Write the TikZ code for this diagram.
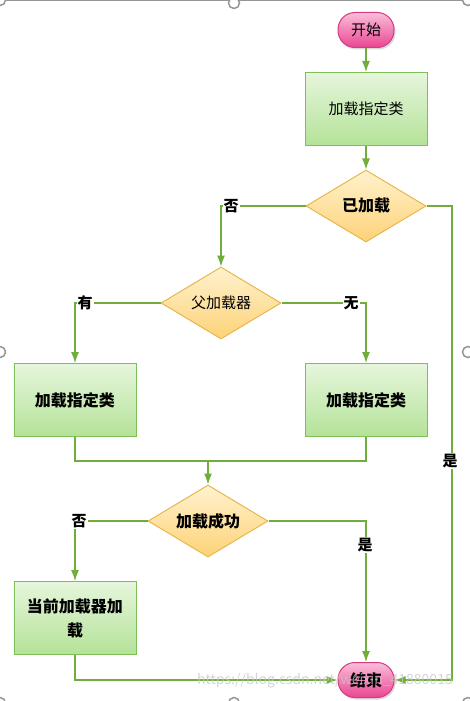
\documentclass[tikz,border=0pt]{standalone}
\usepackage{fontspec}
\setmainfont{Noto Sans CJK SC}
\usetikzlibrary{shapes.geometric,arrows.meta,shadows}
\definecolor{myline}{RGB}{112,174,60}
\definecolor{boxedge}{RGB}{128,190,88}
\definecolor{boxtop}{RGB}{230,246,220}
\definecolor{boxbot}{RGB}{180,226,152}
\definecolor{diaedge}{RGB}{232,182,78}
\definecolor{diatop}{RGB}{255,242,205}
\definecolor{diabot}{RGB}{253,210,120}
\definecolor{pilledge}{RGB}{214,58,128}
\definecolor{pilltop}{RGB}{250,190,218}
\definecolor{pillbot}{RGB}{234,70,146}
\definecolor{frame}{RGB}{150,150,150}

\begin{document}
\begin{tikzpicture}[x=1pt, y=-1pt,
    flow/.style={draw=myline, line width=1.2pt, -{Latex[length=11pt, width=8pt]}},
    link/.style={draw=myline, line width=1.2pt},
    plain/.style={font=\fontsize{15}{18}\selectfont},
    heavy/.style={font=\fontsize{16}{24}\selectfont\bfseries},
    procbox/.style={rectangle, draw=boxedge, line width=1pt, top color=boxtop, bottom color=boxbot,
        minimum width=122pt, minimum height=73pt, text width=112pt, align=center},
    decision/.style={diamond, aspect=1.6, inner sep=0pt, draw=diaedge, line width=1pt,
        top color=diatop, bottom color=diabot, minimum width=120pt, minimum height=72pt},
    terminal/.style={rectangle, rounded corners=17pt, draw=pilledge, line width=1pt,
        top color=pilltop, bottom color=pillbot, minimum width=56pt, minimum height=35pt,
        drop shadow={opacity=0.3, shadow xshift=1.5pt, shadow yshift=-2pt}},
    answer/.style={font=\fontsize{15}{18}\selectfont\bfseries, fill=white, inner sep=1pt},
    handle/.style={draw=frame, fill=white, line width=1.5pt}]
    \useasboundingbox (0, 0) rectangle (470, 701);

    % Selection frame of the editor
    \draw[frame, line width=1pt] (0, 1) -- (470, 1);
    \foreach \hx/\hy in {0/0, 234/3, 468/0, 0/352, 468/352, 234/703, 0/703, 468/703}
        \draw[handle] (\hx, \hy) circle (5.5);

    % Start and first load
    \node[terminal, plain] (start) at (366, 30) {开始};
    \node[procbox, plain] (load) at (366, 109) {加载指定类};
    \node[decision, heavy] (loaded) at (366, 206) {已加载};

    % Parent loader branch
    \node[decision, plain] (parent) at (221, 303) {父加载器};
    \node[procbox, heavy] (leftload) at (75, 400) {加载指定类};
    \node[procbox, heavy] (rightload) at (366, 400) {加载指定类};
    \coordinate (join) at (208, 461);

    % Success check and fallback
    \node[decision, heavy] (success) at (208, 521) {加载成功};
    \node[procbox, heavy] (fallback) at (75, 618) {当前加载器加\\载};
    \node[terminal, heavy] (finish) at (366, 680) {结束};
    \coordinate (rail) at (452, 206);

    % Connectors
    \draw[flow] (start) -- (load);
    \draw[flow] (load) -- (loaded);
    \draw[flow] (loaded.west) -| (parent.north);
    \draw[flow] (loaded.east) -- (rail) |- (finish.east);
    \draw[flow] (parent.west) -| (leftload.north);
    \draw[flow] (parent.east) -| (rightload.north);
    \draw[link] (leftload.south) |- (join) -| (rightload.south);
    \draw[flow] (join) -- (success);
    \draw[flow] (success.west) -| (fallback.north);
    \draw[flow] (success.east) -| (finish.north);
    \draw[flow] (fallback.south) |- (finish.west);

    % Branch labels
    \node[answer] (no1) at (231, 206) {否};
    \node[answer] (yes1) at (450, 461) {是};
    \node[answer] (has) at (85, 303) {有};
    \node[answer] (none) at (351, 303) {无};
    \node[answer] (no2) at (79, 521) {否};
    \node[answer] (yes2) at (365, 545) {是};

    % Watermark
    \node[text=gray!45, opacity=0.75, font=\fontsize{14}{16}\selectfont] (mark) at (325, 681)
        {https://blog.csdn.net/weixin\_41880015};
\end{tikzpicture}
\end{document}
